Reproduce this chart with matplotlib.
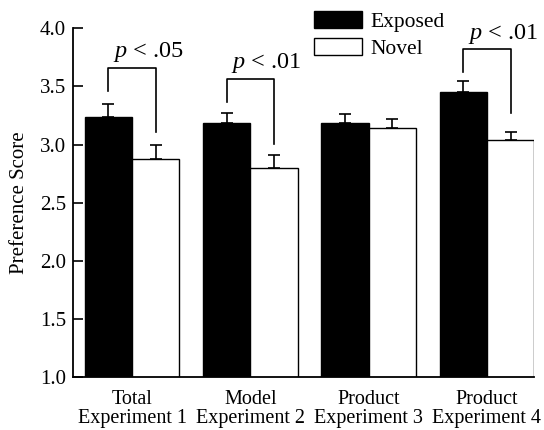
import matplotlib
matplotlib.use('Agg')
import matplotlib.pyplot as plt
import numpy as np

plt.rcParams['font.family'] = ['Liberation Serif', 'DejaVu Serif']
plt.rcParams['mathtext.fontset'] = 'custom'
plt.rcParams['mathtext.it'] = 'Liberation Serif:italic'

groups = ['Total\nExperiment 1', 'Model\nExperiment 2', 'Product\nExperiment 3', 'Product\nExperiment 4']
exposed = [3.24, 3.19, 3.19, 3.455]
exposed_err = [0.11, 0.085, 0.07, 0.095]
novel = [2.877, 2.80, 3.146, 3.04]
novel_err = [0.12, 0.11, 0.074, 0.07]
# bracket heights: left foot, top, right foot
sig_groups = [0, 1, 3]
sig_text = ['.05', '.01', '.01']
br_left = [3.46, 3.365, 3.62]
br_top = [3.66, 3.565, 3.82]
br_right = [3.105, 3.005, 3.27]

fig = plt.figure(figsize=(5.44, 4.30), dpi=100)
ax = fig.add_axes([0.134, 0.1226, 0.848, 0.8116])

x = np.arange(len(groups))
w = 0.4
ax.bar(x - w/2, exposed, w, bottom=0, color='black', edgecolor='black', linewidth=1.0, label='Exposed')
ax.bar(x + w/2, novel, w, color='white', edgecolor='black', linewidth=1.0, label='Novel')
ax.errorbar(x - w/2, exposed, yerr=[np.zeros(4), exposed_err], fmt='none', ecolor='black',
            elinewidth=1.2, capsize=4.5, capthick=1.2)
ax.errorbar(x + w/2, novel, yerr=[np.zeros(4), novel_err], fmt='none', ecolor='black',
            elinewidth=1.2, capsize=4.5, capthick=1.2)

for i, g in enumerate(sig_groups):
    xl = g - w/2
    xr = g + w/2
    ax.plot([xl, xl, xr, xr], [br_left[i], br_top[i], br_top[i], br_right[i]],
            color='black', lw=1.2, clip_on=False)
    ax.text(xl + 0.04, br_top[i] + 0.03, '$p$ < ' + sig_text[i], fontsize=17.5,
            ha='left', va='bottom', clip_on=False)

ax.set_xlim(-0.5, 3.4)
ax.set_ylim(1.0, 4.0)
ax.set_yticks([1.0, 1.5, 2.0, 2.5, 3.0, 3.5, 4.0])
ax.set_yticklabels(['1.0', '1.5', '2.0', '2.5', '3.0', '3.5', '4.0'])
ax.set_xticks(x)
ax.set_xticklabels(groups, fontsize=14.5, linespacing=1.05)
ax.tick_params(axis='x', length=0, pad=9)
ax.tick_params(axis='y', direction='in', length=7, width=1.2, labelsize=15, pad=5)
ax.spines['top'].set_visible(False)
ax.spines['right'].set_visible(False)
ax.spines['left'].set_linewidth(1.3)
ax.spines['bottom'].set_linewidth(1.3)
ax.set_ylabel('Preference Score', fontsize=15, labelpad=8)

ax.legend(loc='upper left', bbox_to_anchor=(0.578, 0.975), bbox_transform=fig.transFigure,
          frameon=False, fontsize=15.5, handlelength=2.2, handleheight=0.85,
          handletextpad=0.4, labelspacing=0.3, borderpad=0, borderaxespad=0)

fig.savefig('out.png', dpi=100)
